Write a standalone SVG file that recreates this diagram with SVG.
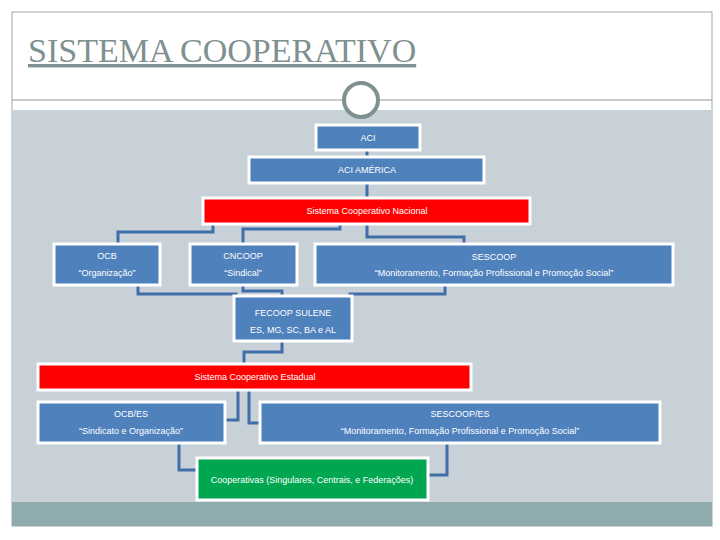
<svg xmlns="http://www.w3.org/2000/svg" width="720" height="540" viewBox="0 0 720 540">
<style>
.b{fill:#4f81bd;stroke:#fff;stroke-width:3}
.r{fill:#ff0000;stroke:#fff;stroke-width:3}
.g{fill:#00a650;stroke:#fff;stroke-width:3}
text{font-family:"Liberation Sans",sans-serif;font-size:9px;fill:#fff;text-anchor:middle}
#conn path{fill:none;stroke:#3f6ea8;stroke-width:3}
</style>
<rect width="720" height="540" fill="#fff"/>
<rect x="12" y="12" width="700" height="514" fill="#fff" stroke="#9aa" stroke-width="1"/>
<rect x="12" y="110" width="700" height="392" fill="#c8d1d8"/>
<rect x="12" y="502" width="700" height="24" fill="#8fabad"/>
<line x1="12" y1="100" x2="712" y2="100" stroke="#8a9a9a"/>
<circle cx="361" cy="100" r="17" fill="#fff" stroke="#7f9090" stroke-width="4"/>
<text x="28" y="62" style="font-family:'Liberation Serif',serif;font-size:34px;fill:#7f9090;text-anchor:start;text-decoration:underline">SISTEMA COOPERATIVO</text>
<g id="conn">
<path d="M367 150V157M367 183V198"/>
<path d="M213 224V232H118V244M340 224V229H243V244M367 224V237H464V244"/>
<path d="M138 285V294H236V296M243 285V291H282V296M445 285V294H350V296"/>
<path d="M282 341V352H244V364"/>
<path d="M238 390V420H225M249 390V423H260"/>
<path d="M179 443V470H197M447 443V475H428"/>
</g>
<g id="aci"><rect class="b" x="316" y="125" width="104" height="25"/><text x="368" y="141">ACI</text></g>
<g id="aciamerica"><rect class="b" x="249" y="157" width="235" height="26"/><text x="367" y="173">ACI AMÉRICA</text></g>
<g id="nacional"><rect class="r" x="203" y="198" width="327" height="26"/><text x="367" y="214">Sistema Cooperativo Nacional</text></g>
<g id="ocb"><rect class="b" x="54" y="244" width="106" height="41"/><text x="107" y="259">OCB</text><text x="107" y="276">“Organização”</text></g>
<g id="cncoop"><rect class="b" x="190" y="244" width="107" height="41"/><text x="243" y="259">CNCOOP</text><text x="243" y="276">“Sindical”</text></g>
<g id="sescoop"><rect class="b" x="315" y="244" width="358" height="41"/><text x="494" y="260">SESCOOP</text><text x="494" y="276">“Monitoramento, Formação  Profissional e Promoção Social”</text></g>
<g id="fecoop"><rect class="b" x="234" y="296" width="118" height="45"/><text x="293" y="316">FECOOP SULENE</text><text x="293" y="333">ES, MG, SC, BA e AL</text></g>
<g id="estadual"><rect class="r" x="38" y="364" width="433" height="26"/><text x="255" y="380">Sistema Cooperativo Estadual</text></g>
<g id="ocbes"><rect class="b" x="38" y="402" width="187" height="41"/><text x="131" y="417">OCB/ES</text><text x="131" y="434">“Sindicato e Organização”</text></g>
<g id="sescoopes"><rect class="b" x="260" y="402" width="400" height="41"/><text x="460" y="417">SESCOOP/ES</text><text x="460" y="434">“Monitoramento, Formação  Profissional e Promoção Social”</text></g>
<g id="coop"><rect class="g" x="197" y="458" width="231" height="42"/><text x="312" y="483">Cooperativas  (Singulares, Centrais, e Federações)</text></g>
</svg>
